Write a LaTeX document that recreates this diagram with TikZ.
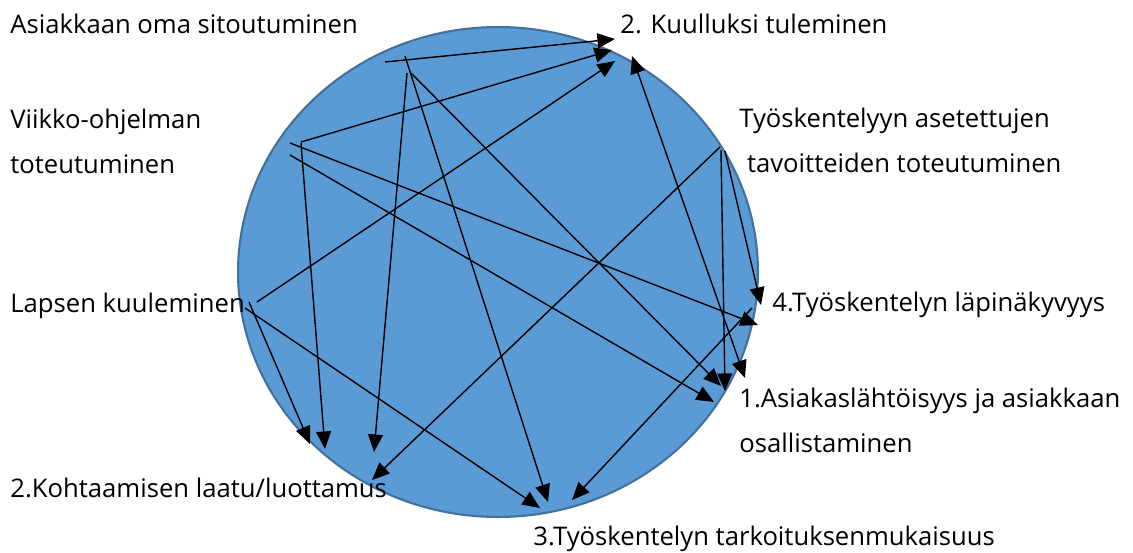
\documentclass[tikz,border=0pt]{standalone}
\usepackage{fontspec}
\setmainfont{Open Sans}
\usetikzlibrary{arrows.meta}
\definecolor{ballfill}{HTML}{5B9BD5}
\definecolor{ballline}{HTML}{41719C}

\begin{document}
\begin{tikzpicture}[x=0.02cm,y=-0.02cm,
    lbl/.style={anchor=base west,inner sep=0pt,align=left,font=\fontsize{14.6}{25.5}\selectfont},
    link/.style={->,line width=0.8pt},
    >={Triangle[length=10pt,width=8.5pt]}]

        \useasboundingbox (0,0) rectangle (1133,552);
        \draw[ballline,fill=ballfill,line width=1.2pt] (498,272) ellipse [x radius=5.2cm,y radius=4.9cm];

        \node[lbl] at (10,33) (sitout) {Asiakkaan oma sitoutuminen};
        \node[lbl] at (620,33) (kuull) {2. Kuulluksi tuleminen};
        \node[lbl] at (10,173) (viikko) {Viikko-ohjelman\\toteutuminen};
        \node[lbl] at (739,172) (tavoit) {Työskentelyyn asetettujen\\\hspace*{0.3em}tavoitteiden toteutuminen};
        \node[lbl] at (10,312) (lapsen) {Lapsen kuuleminen};
        \node[lbl] at (772,311) (lapin) {4.Työskentelyn läpinäkyvyys};
        \node[lbl] at (739,452) (asiak) {1.Asiakaslähtöisyys ja asiakkaan\\osallistaminen};
        \node[lbl] at (10,497) (kohtaa) {2.Kohtaamisen laatu/luottamus};
        \node[lbl] at (533,545) (tarkoit) {3.Työskentelyn tarkoituksenmukaisuus};

        \coordinate (a1) at (385,62);
        \coordinate (a2) at (405,56);
        \coordinate (a3) at (411,73);
        \coordinate (a4) at (407,73);
        \coordinate (v1) at (301,142);
        \coordinate (v2) at (290,143);
        \coordinate (v3) at (290,155);
        \coordinate (v4) at (301,143);
        \coordinate (l1) at (257,302);
        \coordinate (l2) at (249,302);
        \coordinate (l3) at (245,308);
        \coordinate (t1) at (720,147);
        \coordinate (t2) at (721,150);
        \coordinate (t3) at (725,151);
        \coordinate (p0) at (752,308);
        \coordinate (q0) at (745,378);

        \coordinate (k1) at (615,39);
        \coordinate (k2) at (612,50);
        \coordinate (k3) at (615,61);
        \coordinate (k4) at (632,56);
        \coordinate (p1) at (761,305);
        \coordinate (p2) at (758,325);
        \coordinate (q1) at (721,386);
        \coordinate (q2) at (725,391);
        \coordinate (q3) at (714,402);
        \coordinate (h1) at (310,444);
        \coordinate (h2) at (325,449);
        \coordinate (h3) at (374,452);
        \coordinate (h4) at (372,480);
        \coordinate (r1) at (540,508);
        \coordinate (r2) at (548,502);
        \coordinate (r3) at (572,500);

        \draw[link] (a1) -- (k1);
        \draw[link] (a2) -- (r2);
        \draw[link] (a3) -- (q1);
        \draw[link] (a4) -- (h3);
        \draw[link] (v1) -- (k2);
        \draw[link] (v2) -- (p2);
        \draw[link] (v3) -- (q3);
        \draw[link] (v4) -- (h2);
        \draw[link] (l1) -- (k3);
        \draw[link] (l2) -- (h1);
        \draw[link] (l3) -- (r1);
        \draw[link] (t1) -- (h4);
        \draw[link] (t2) -- (q2);
        \draw[link] (t3) -- (p1);
        \draw[link] (p0) -- (r3);
        \draw[link,<->] (q0) -- (k4);
            \end{tikzpicture}
\end{document}
